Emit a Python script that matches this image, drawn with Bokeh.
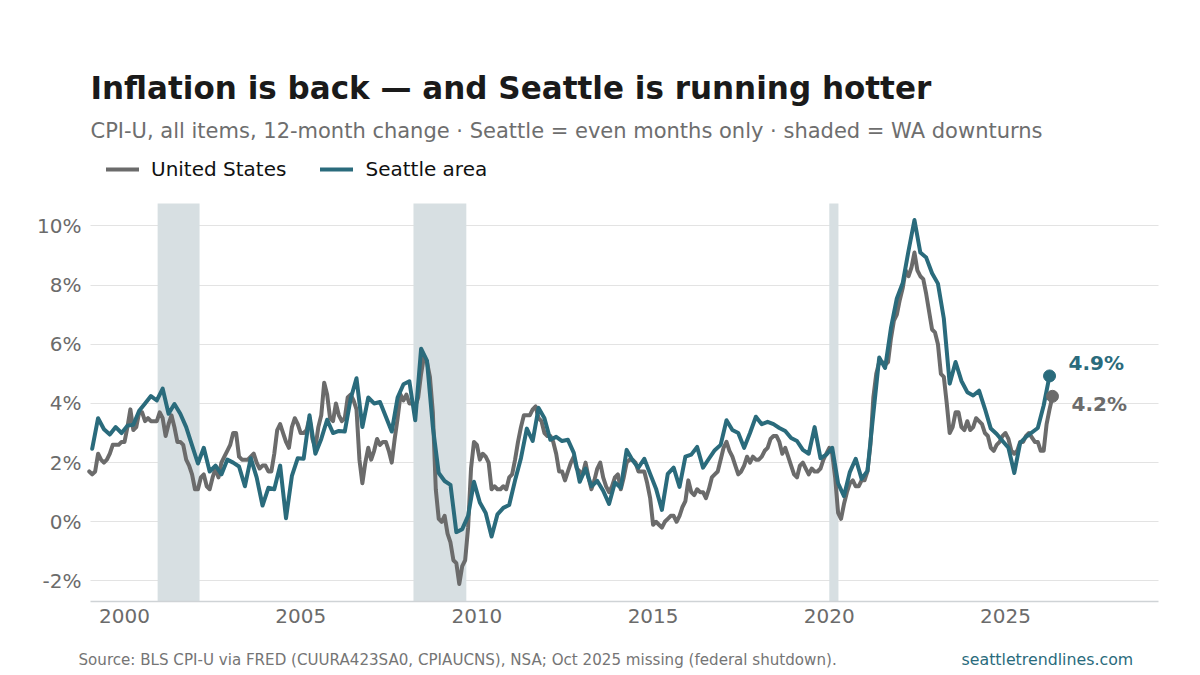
from bokeh.plotting import figure
from bokeh.models import Label, Legend, LegendItem, FixedTicker, Grid
from bokeh.embed import file_html
from bokeh.resources import INLINE

TITLE = "Inflation is back — and Seattle is running hotter"
SUBTITLE = "CPI-U, all items, 12-month change · Seattle = even months only · shaded = WA downturns"
SOURCE = "Source: BLS CPI-U via FRED (CUURA423SA0, CPIAUCNS), NSA; Oct 2025 missing (federal shutdown)."
SITE = "seattletrendlines.com"
GRAY = "#6b6b6b"
TEAL = "#2a6b7c"

us_values = [
 1.7,1.6,1.7,2.3,2.1,2.0,2.1,2.3,2.6,2.6,2.6,2.7,
 2.7,3.2,3.8,3.1,3.2,3.7,3.7,3.4,3.5,3.4,3.4,3.4,
 3.7,3.5,2.9,3.3,3.6,3.2,2.7,2.7,2.6,2.1,1.9,1.6,
 1.1,1.1,1.5,1.6,1.2,1.1,1.5,1.8,1.5,2.0,2.2,2.4,
 2.6,3.0,3.0,2.2,2.1,2.1,2.1,2.2,2.3,2.0,1.8,1.9,
 1.9,1.7,1.7,2.3,3.1,3.3,3.0,2.7,2.5,3.2,3.5,3.3,
 3.0,3.0,3.1,3.5,2.8,2.5,3.2,3.6,4.7,4.3,3.5,3.4,
 4.0,3.6,3.4,3.5,4.2,4.3,4.1,3.8,2.1,1.3,2.0,2.5,
 2.1,2.4,2.8,2.6,2.7,2.7,2.4,2.0,2.8,3.5,4.3,4.1,
 4.3,4.0,4.0,3.9,4.2,5.0,5.6,5.4,4.9,3.7,1.1,0.1,
 0.0,0.2,-0.4,-0.7,-1.3,-1.4,-2.1,-1.5,-1.3,-0.2,1.8,2.7,
 2.6,2.1,2.3,2.2,2.0,1.1,1.2,1.1,1.1,1.2,1.1,1.5,
 1.6,2.1,2.7,3.2,3.6,3.6,3.6,3.8,3.9,3.5,3.4,3.0,
 2.9,2.9,2.7,2.3,1.7,1.7,1.4,1.7,2.0,2.2,1.8,1.7,
 1.6,2.0,1.5,1.1,1.4,1.8,2.0,1.5,1.2,1.0,1.2,1.5,
 1.6,1.1,1.5,2.0,2.1,2.1,2.0,1.7,1.7,1.7,1.3,0.8,
 -0.1,0.0,-0.1,-0.2,0.0,0.1,0.2,0.2,0.0,0.2,0.5,0.7,
 1.4,1.0,0.9,1.1,1.0,1.0,0.8,1.1,1.5,1.6,1.7,2.1,
 2.5,2.7,2.4,2.2,1.9,1.6,1.7,1.9,2.2,2.0,2.2,2.1,
 2.1,2.2,2.4,2.5,2.8,2.9,2.9,2.7,2.3,2.5,2.2,1.9,
 1.6,1.5,1.9,2.0,1.8,1.6,1.8,1.7,1.7,1.8,2.1,2.3,
 2.5,2.3,1.5,0.3,0.1,0.6,1.0,1.3,1.4,1.2,1.2,1.4,
 1.4,1.7,2.6,4.2,5.0,5.4,5.4,5.3,5.4,6.2,6.8,7.0,
 7.5,7.9,8.5,8.3,8.6,9.1,8.5,8.3,8.2,7.7,7.1,6.5,
 6.4,6.0,5.0,4.9,4.0,3.0,3.2,3.7,3.7,3.2,3.1,3.4,
 3.1,3.2,3.5,3.4,3.3,3.0,2.9,2.5,2.4,2.6,2.7,2.9,
 3.0,2.8,2.4,2.3,2.4,2.7,2.7,2.9,3.0,2.7,2.7,
 2.4,2.4,3.3,3.8,4.24,
]

seattle_values = [
 2.47,3.5,3.13,2.95,3.2,3.0,3.25,3.28,3.75,4.0,4.25,4.1,4.5,3.65,3.98,3.65,3.2,2.58,1.97,2.5,
 1.7,1.9,1.6,2.1,2.0,1.87,1.2,2.15,1.5,0.55,1.15,1.1,1.9,0.12,1.55,2.15,2.13,3.6,2.3,2.8,
 3.45,3.0,3.07,3.05,4.15,4.85,3.2,4.2,4.0,4.05,3.55,3.05,4.2,4.65,4.75,3.43,5.85,5.45,3.2,1.65,
 1.38,1.25,-0.35,-0.25,0.2,1.35,0.65,0.3,-0.5,0.25,0.47,0.57,1.4,2.15,3.15,2.73,3.85,3.5,2.77,2.87,
 2.73,2.77,2.33,1.35,1.8,1.2,1.38,1.05,0.6,1.33,1.15,2.43,2.08,1.83,2.13,1.62,1.12,0.4,1.62,1.83,
 1.18,2.2,2.27,2.53,1.83,2.13,2.42,2.6,3.43,3.1,3.0,2.5,3.0,3.55,3.3,3.38,3.3,3.17,3.07,2.83,
 2.73,2.43,2.3,3.2,2.15,2.27,2.5,1.3,0.87,1.68,2.13,1.45,1.72,3.65,5.55,5.2,6.55,7.55,8.07,9.17,
 10.2,9.1,8.93,8.4,8.05,6.87,4.67,5.4,4.76,4.38,4.27,4.43,3.82,3.15,2.97,2.73,2.5,1.65,2.67,2.87,
 3.17,3.93,4.93,
]

downturn_start = [2000.94, 2008.2, 2020.0]
downturn_end = [2002.13, 2009.7, 2020.26]
year_ticks = [2000, 2005, 2010, 2015, 2020, 2025]
pct_ticks = [-2, 0, 2, 4, 6, 8, 10]
X_MIN, X_MAX = 1999.035, 2029.34
Y_MIN, Y_MAX = -2.695, 10.76

# Monthly calendar, Oct 2025 was never published
months = [(y, m) for y in range(1999, 2027) for m in range(1, 13) if (y, m) != (2025, 10)]
us_dates = [y + (m - 1) / 12 for y, m in months if (y, m) <= (2026, 5)]
sea_dates = [y + (m - 1) / 12 for y, m in months if m % 2 == 0 and (y, m) <= (2026, 4)]
assert len(us_dates) == len(us_values), (len(us_dates), len(us_values))
assert len(sea_dates) == len(seattle_values), (len(sea_dates), len(seattle_values))

# The frame fills the whole canvas so that titles and legend live inside it
p = figure(width=1200, height=675, output_backend="svg", toolbar_location=None,
           x_range=(1996.481, 2030.534), y_range=(-5.196, 17.62),
           min_border_left=0, min_border_right=0, min_border_top=0, min_border_bottom=0,
           background_fill_color="white", border_fill_color="white")
p.outline_line_color = None
p.grid.visible = False
grid = Grid(dimension=1, ticker=FixedTicker(ticks=pct_ticks), cross_bounds=(X_MIN, X_MAX),
            grid_line_color="#e3e3e3", grid_line_width=1)
p.add_layout(grid)

p.quad(left=downturn_start, right=downturn_end, bottom=Y_MIN, top=Y_MAX,
       fill_color="#d7dfe2", line_color=None)

r_us = p.line(us_dates, us_values, line_color=GRAY, line_width=4, line_join="round", line_cap="round")
r_sea = p.line(sea_dates, seattle_values, line_color=TEAL, line_width=4, line_join="round", line_cap="round")
p.scatter(us_dates[-1:], us_values[-1:], size=12, color=GRAY)
p.scatter(sea_dates[-1:], seattle_values[-1:], size=12, color=TEAL)

for ax in (p.xaxis[0], p.yaxis[0]):
    ax.major_tick_line_color = None
    ax.minor_tick_line_color = None
    ax.major_label_text_color = "#6b6b6b"
    ax.major_label_text_font = "DejaVu Sans"
    ax.major_label_text_font_size = "20px"
p.yaxis[0].axis_line_color = None
p.yaxis[0].fixed_location = X_MIN
p.xaxis[0].fixed_location = Y_MIN
p.xaxis[0].bounds = (X_MIN, X_MAX)
p.xaxis[0].axis_line_color = "#cfd3d6"
p.xaxis[0].axis_line_width = 1.5
p.xaxis[0].ticker = FixedTicker(ticks=year_ticks)
p.xaxis[0].major_label_overrides = {y: str(y) for y in year_ticks}
p.yaxis[0].ticker = FixedTicker(ticks=pct_ticks)
p.yaxis[0].major_label_overrides = {v: f"{v}%" for v in pct_ticks}
p.xaxis[0].major_label_standoff = 1
p.yaxis[0].major_label_standoff = 3

legend = Legend(items=[LegendItem(label="United States", renderers=[r_us]),
                       LegendItem(label="Seattle area", renderers=[r_sea])],
                orientation="horizontal", location=(106, 494),
                background_fill_alpha=0, border_line_color=None,
                label_text_font="DejaVu Sans", label_text_font_size="20px", label_text_color="#111111",
                glyph_width=33, glyph_height=20, spacing=34, padding=0, margin=0, label_standoff=12)
p.add_layout(legend, "center")

def text(s, x, y, size, color, bold=False):
    p.add_layout(Label(x=x, y=675 - y, x_units="screen", y_units="screen", text=s, text_font="DejaVu Sans",
                       text_font_size=size, text_color=color, text_align="left", text_baseline="middle",
                       text_font_style="bold" if bold else "normal"))

text(TITLE, 90, 87, "31.03px", "#1a1a1a", bold=True)
text(SUBTITLE, 90, 130, "21px", "#6e6e6e")
text(SOURCE, 78, 659, "15.1px", "#757575")
text(SITE, 961, 659, "15.8px", TEAL)

for val, date, color, off, yo in ((seattle_values[-1], sea_dates[-1], TEAL, 19, 13),
                                  (us_values[-1], us_dates[-1], GRAY, 19, -8)):
    p.add_layout(Label(x=date, y=val, text=f"{val:.1f}%", x_offset=off, y_offset=yo,
                       text_font="DejaVu Sans", text_font_size="20px", text_font_style="bold",
                       text_color=color, text_baseline="middle"))

open("out.html", "w").write(file_html(p, INLINE))
